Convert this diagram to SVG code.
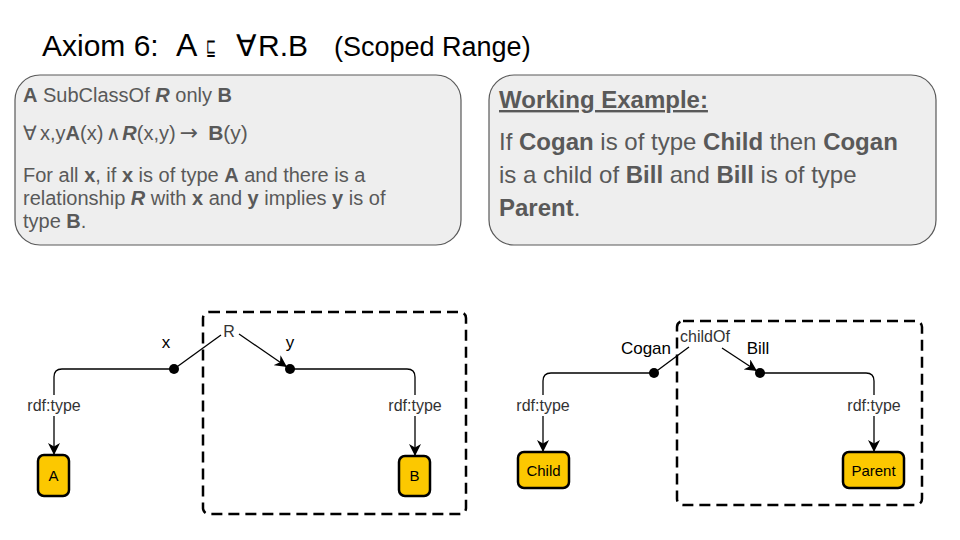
<svg xmlns="http://www.w3.org/2000/svg" width="960" height="540" viewBox="0 0 960 540">
<defs>
<marker id="arr" viewBox="0 0 12 12" refX="12" refY="6" markerWidth="12" markerHeight="12" markerUnits="userSpaceOnUse" orient="auto">
<path d="M0,0 L12,6 L0,12 L3.5,6 Z" fill="#000"/>
</marker>
<style>
text{font-family:"Liberation Sans",Arial,sans-serif}
.panel{fill:#eeeeee;stroke:#595959;stroke-width:1.2}
.pt{fill:#595959;font-size:20px}
.wt{fill:#595959;font-size:24px}
.edge{fill:none;stroke:#000;stroke-width:1.3}
.dash{fill:none;stroke:#000;stroke-width:2.5;stroke-dasharray:11 6}
.node{fill:#fcc800;stroke:#000;stroke-width:2.5}
.nl{font-size:15px;fill:#000;text-anchor:middle}
.el{font-size:16px;fill:#333;text-anchor:middle}
.il{font-size:17px;fill:#000;text-anchor:middle}
</style>
</defs>
<rect width="960" height="540" fill="#fff"/>
<g id="title">
<text x="42" y="56" font-size="30" fill="#000">Axiom 6:<tspan x="176" font-size="32">A</tspan><tspan x="236">∀</tspan><tspan x="258">R.B</tspan><tspan x="334" font-size="27">(Scoped Range)</tspan></text>
<text transform="translate(206,55) scale(0.7,1.35)" font-family="DejaVu Sans" font-size="17" fill="#000">⊑</text>
</g>
<g id="definition">
<rect class="panel" x="15" y="75" width="446" height="170" rx="25"/>
<text class="pt" x="23" y="102"><tspan font-weight="bold">A</tspan> SubClassOf <tspan font-weight="bold" font-style="italic">R</tspan> only <tspan font-weight="bold">B</tspan></text>
<text class="pt" x="23" y="140">∀<tspan x="40">x,y</tspan><tspan font-weight="bold">A</tspan>(x)<tspan dx="3">∧</tspan><tspan dx="1" font-weight="bold" font-style="italic">R</tspan>(x,y)<tspan dx="4" font-family="DejaVu Sans" font-size="22">→</tspan><tspan dx="10" font-weight="bold" font-size="21">B</tspan><tspan font-size="21">(y)</tspan></text>
<text class="pt" x="23" y="182">For all <tspan font-weight="bold">x</tspan>, if <tspan font-weight="bold">x</tspan> is of type <tspan font-weight="bold">A</tspan> and there is a</text>
<text class="pt" x="23" y="205">relationship <tspan font-weight="bold" font-style="italic">R</tspan> with <tspan font-weight="bold">x</tspan> and <tspan font-weight="bold">y</tspan> implies <tspan font-weight="bold">y</tspan> is of</text>
<text class="pt" x="23" y="228">type <tspan font-weight="bold">B</tspan>.</text>
</g>
<g id="example">
<rect class="panel" x="489" y="75" width="447" height="170" rx="25"/>
<text x="499" y="108" font-size="24" font-weight="bold" fill="#595959" text-decoration="underline">Working Example:</text>
<text class="wt" x="499" y="150">If <tspan font-weight="bold">Cogan</tspan> is of type <tspan font-weight="bold">Child</tspan> then <tspan font-weight="bold">Cogan</tspan></text>
<text class="wt" x="499" y="183">is a child of <tspan font-weight="bold">Bill</tspan> and <tspan font-weight="bold">Bill</tspan> is of type</text>
<text class="wt" x="499" y="216"><tspan font-weight="bold">Parent</tspan>.</text>
</g>
<g id="scopes">
<rect class="dash" x="203" y="312" width="263" height="202" rx="6"/>
<rect class="dash" x="677" y="321" width="245" height="184" rx="6"/>
</g>
<g id="connectors">
<path class="edge" d="M174,369 H62 Q54,369 54,377 V395"/>
<path class="edge" d="M54,416 V455" marker-end="url(#arr)"/>
<path class="edge" d="M290,369 H407 Q415,369 415,377 V395"/>
<path class="edge" d="M415,416 V456" marker-end="url(#arr)"/>
<path class="edge" d="M174,369 L221,335"/>
<path class="edge" d="M239,334 L287,367" marker-end="url(#arr)"/>
<path class="edge" d="M654,373 H551 Q543,373 543,381 V395"/>
<path class="edge" d="M543,416 V452" marker-end="url(#arr)"/>
<path class="edge" d="M760,373 H866 Q874,373 874,381 V395"/>
<path class="edge" d="M874,416 V452" marker-end="url(#arr)"/>
<path class="edge" d="M654,373 L689,347"/>
<path class="edge" d="M722,348 L757,371" marker-end="url(#arr)"/>
<text class="el" x="54" y="411">rdf:type</text>
<text class="el" x="415" y="411">rdf:type</text>
<text class="el" x="543" y="411">rdf:type</text>
<text class="el" x="874" y="411">rdf:type</text>
<text class="el" x="229" y="337" fill="#000">R</text>
<text class="el" x="705" y="342" font-size="15">childOf</text>
</g>
<g id="x">
<circle cx="174" cy="369" r="5"/>
<text class="il" x="166" y="348">x</text>
</g>
<g id="y">
<circle cx="290" cy="369" r="5"/>
<text class="il" x="290" y="348">y</text>
</g>
<g id="cogan">
<circle cx="654" cy="373" r="5"/>
<text class="il" x="646" y="354" font-size="16">Cogan</text>
</g>
<g id="bill">
<circle cx="760" cy="373" r="5"/>
<text class="il" x="758" y="354" font-size="16">Bill</text>
</g>
<g id="A">
<rect class="node" x="38" y="455" width="31" height="41" rx="6"/>
<text class="nl" x="53.5" y="481">A</text>
</g>
<g id="B">
<rect class="node" x="399" y="456" width="31" height="40" rx="6"/>
<text class="nl" x="414.5" y="481">B</text>
</g>
<g id="Child">
<rect class="node" x="518" y="452" width="51" height="36" rx="6"/>
<text class="nl" x="543.5" y="476">Child</text>
</g>
<g id="Parent">
<rect class="node" x="843" y="452" width="61" height="36" rx="6"/>
<text class="nl" x="873.5" y="476">Parent</text>
</g>
</svg>
